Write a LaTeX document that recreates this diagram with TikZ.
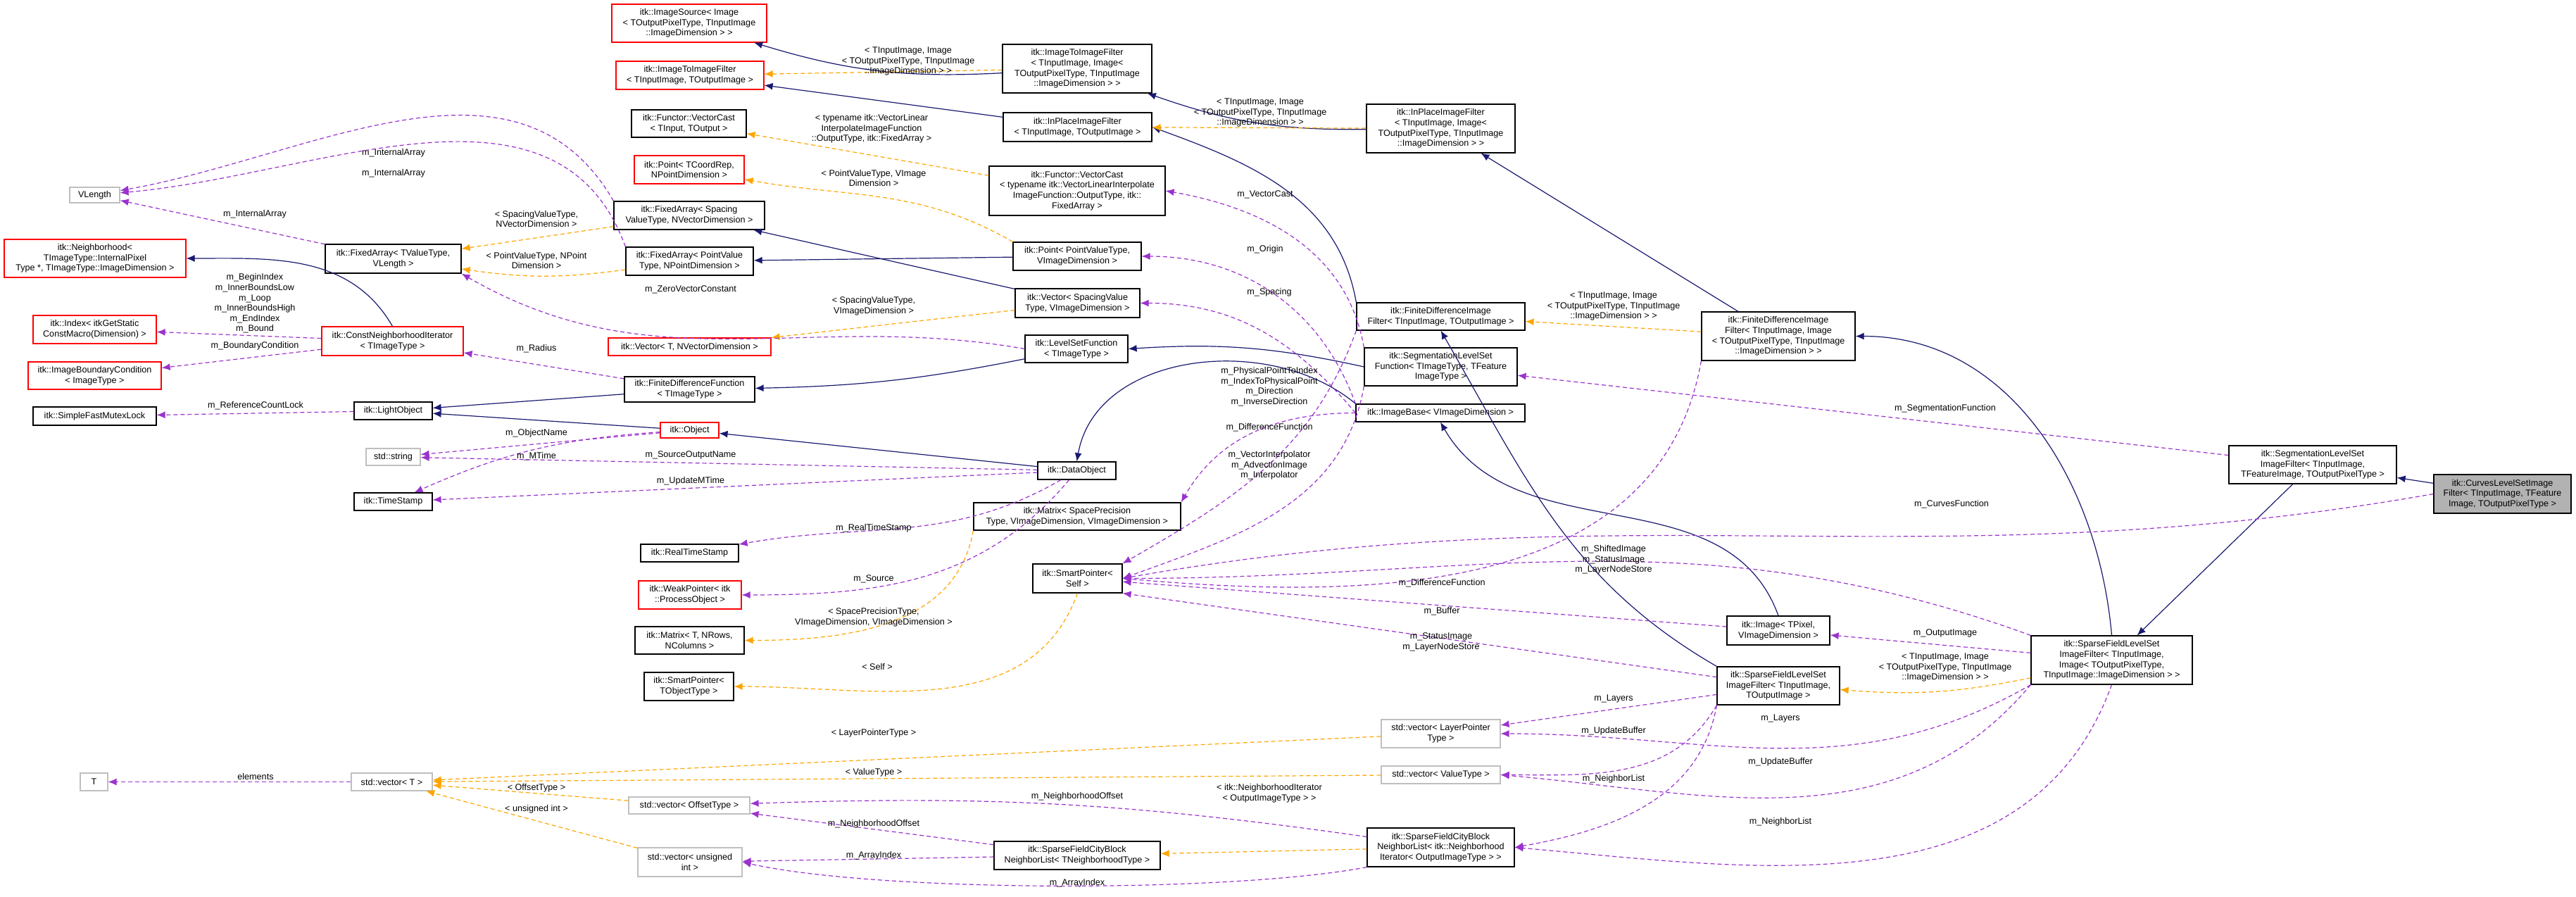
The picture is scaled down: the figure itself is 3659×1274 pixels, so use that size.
\documentclass[tikz,border=0pt]{standalone}
\usepackage{fontspec}
\setmainfont{Liberation Sans}
\usetikzlibrary{arrows.meta}
\tikzset{
  bx/.style={draw, line width=0.6pt, align=center, inner sep=0pt, font=\fontsize{6.3}{7.3}\selectfont, fill=white},
  blk/.style={bx, draw=black},
  rd/.style={bx, draw=red},
  gr/.style={bx, draw=black!25},
  cur/.style={bx, draw=black, fill=black!30},
  lbl/.style={align=center, inner sep=0pt, font=\fontsize{6.3}{7.3}\selectfont},
  inh/.style={draw={rgb,255:red,25;green,25;blue,112}, line width=0.6pt, -{Latex[length=6pt,width=5pt]}},
  tmpl/.style={draw={rgb,255:red,255;green,165;blue,0}, line width=0.6pt, dash pattern=on 3pt off 2pt, -{Latex[length=6pt,width=5pt]}},
  mem/.style={draw={rgb,255:red,155;green,50;blue,205}, line width=0.6pt, dash pattern=on 3pt off 2pt, -{Latex[length=6pt,width=5pt]}},
}
\newcommand{\NB}[7]{\node[#6, minimum width={(#4-#2)*0.5pt}, minimum height={(#5-#3)*0.5pt}] (#1) at ({(#2+#4)/2},{(#3+#5)/2}) {#7};}
\newcommand{\LB}[4]{\node[lbl] (#1) at (#2,#3) {#4};}
\begin{document}
\begin{tikzpicture}[x=0.5pt,y=-0.5pt]
\useasboundingbox (0,0) rectangle (3659,1274);
% nodes
\NB{imgsrc}{869}{6}{1089}{60}{rd}{itk::ImageSource< Image\\< TOutputPixelType, TInputImage\\::ImageDimension > >}
\NB{i2i}{875}{87}{1085}{127}{rd}{itk::ImageToImageFilter\\< TInputImage, TOutputImage >}
\NB{vcastT}{897}{156}{1060}{195}{blk}{itk::Functor::VectorCast\\< TInput, TOutput >}
\NB{pointT}{901}{221}{1057}{261}{rd}{itk::Point< TCoordRep,\\NPointDimension >}
\NB{faSpacing}{872}{286}{1086}{326}{blk}{itk::FixedArray< Spacing\\ValueType, NVectorDimension >}
\NB{faPoint}{889}{351}{1070}{391}{blk}{itk::FixedArray< PointValue\\Type, NPointDimension >}
\NB{faT}{462}{347}{655}{388}{blk}{itk::FixedArray< TValueType,\\VLength >}
\NB{vlength}{99}{266}{170}{288}{gr}{VLength}
\NB{neigh}{6}{340}{264}{394}{rd}{itk::Neighborhood<\\ TImageType::InternalPixel\\Type *, TImageType::ImageDimension >}
\NB{index}{47}{448}{222}{488}{rd}{itk::Index< itkGetStatic\\ConstMacro(Dimension) >}
\NB{cni}{457}{464}{658}{505}{rd}{itk::ConstNeighborhoodIterator\\< TImageType >}
\NB{ibc}{40}{514}{229}{553}{rd}{itk::ImageBoundaryCondition\\< ImageType >}
\NB{mutex}{47}{578}{222}{604}{blk}{itk::SimpleFastMutexLock}
\NB{light}{503}{571}{614}{596}{blk}{itk::LightObject}
\NB{vectorT}{864}{480}{1095}{505}{rd}{itk::Vector< T, NVectorDimension >}
\NB{fdf}{887}{535}{1072}{571}{blk}{itk::FiniteDifferenceFunction\\< TImageType >}
\NB{object}{938}{600}{1021}{622}{rd}{itk::Object}
\NB{string}{520}{637}{597}{661}{gr}{std::string}
\NB{tstamp}{503}{700}{614}{725}{blk}{itk::TimeStamp}
\NB{dataobj}{1474}{656}{1585}{681}{blk}{itk::DataObject}
\NB{realts}{910}{773}{1049}{798}{blk}{itk::RealTimeStamp}
\NB{weak}{907}{825}{1053}{865}{rd}{itk::WeakPointer< itk\\::ProcessObject >}
\NB{matrixT}{902}{890}{1057}{929}{blk}{itk::Matrix< T, NRows,\\NColumns >}
\NB{spTObj}{915}{955}{1042}{995}{blk}{itk::SmartPointer<\\TObjectType >}
\NB{T}{114}{1098}{153}{1123}{gr}{T}
\NB{vecT}{499}{1098}{614}{1123}{gr}{std::vector< T >}
\NB{vecOff}{893}{1132}{1065}{1156}{gr}{std::vector< OffsetType >}
\NB{vecUns}{906}{1204}{1054}{1245}{gr}{std::vector< unsigned\\int >}
\NB{cityT}{1412}{1195}{1648}{1235}{blk}{itk::SparseFieldCityBlock\\NeighborList< TNeighborhoodType >}
\NB{i2iImg}{1424}{63}{1636}{132}{blk}{itk::ImageToImageFilter\\< TInputImage, Image<\\TOutputPixelType, TInputImage\\::ImageDimension > >}
\NB{inplaceT}{1425}{160}{1636}{201}{blk}{itk::InPlaceImageFilter\\< TInputImage, TOutputImage >}
\NB{vcastFull}{1405}{236}{1655}{306}{blk}{itk::Functor::VectorCast\\< typename itk::VectorLinearInterpolate\\ImageFunction::OutputType, itk::\\FixedArray >}
\NB{pointPV}{1439}{344}{1621}{384}{blk}{itk::Point< PointValueType,\\VImageDimension >}
\NB{vecSp}{1442}{410}{1619}{451}{blk}{itk::Vector< SpacingValue\\Type, VImageDimension >}
\NB{lsf}{1456}{476}{1602}{515}{blk}{itk::LevelSetFunction\\< TImageType >}
\NB{matrixSP}{1383}{714}{1677}{753}{blk}{itk::Matrix< SpacePrecision\\Type, VImageDimension, VImageDimension >}
\NB{spSelf}{1467}{801}{1594}{842}{blk}{itk::SmartPointer<\\Self >}
\NB{inplaceImg}{1941}{148}{2152}{217}{blk}{itk::InPlaceImageFilter\\< TInputImage, Image<\\TOutputPixelType, TInputImage\\::ImageDimension > >}
\NB{fdiT}{1927}{430}{2166}{469}{blk}{itk::FiniteDifferenceImage\\Filter< TInputImage, TOutputImage >}
\NB{seglsf}{1938}{494}{2155}{548}{blk}{itk::SegmentationLevelSet\\Function< TImageType, TFeature\\ImageType >}
\NB{imgbase}{1926}{574}{2166}{599}{blk}{itk::ImageBase< VImageDimension >}
\NB{fdiImg}{2417}{443}{2635}{512}{blk}{itk::FiniteDifferenceImage\\Filter< TInputImage, Image\\< TOutputPixelType, TInputImage\\::ImageDimension > >}
\NB{seglsif}{3166}{633}{3404}{687}{blk}{itk::SegmentationLevelSet\\ImageFilter< TInputImage,\\ TFeatureImage, TOutputPixelType >}
\NB{curves}{3457}{674}{3652}{729}{cur}{itk::CurvesLevelSetImage\\Filter< TInputImage, TFeature\\Image, TOutputPixelType >}
\NB{image}{2453}{875}{2599}{916}{blk}{itk::Image< TPixel,\\VImageDimension >}
\NB{sfls}{2885}{903}{3114}{972}{blk}{itk::SparseFieldLevelSet\\ImageFilter< TInputImage,\\Image< TOutputPixelType,\\TInputImage::ImageDimension > >}
\NB{sflsT}{2439}{947}{2613}{1001}{blk}{itk::SparseFieldLevelSet\\ImageFilter< TInputImage,\\TOutputImage >}
\NB{vecLP}{1962}{1022}{2131}{1062}{gr}{std::vector< LayerPointer\\Type >}
\NB{vecVT}{1962}{1088}{2131}{1113}{gr}{std::vector< ValueType >}
\NB{cityN}{1942}{1176}{2151}{1231}{blk}{itk::SparseFieldCityBlock\\NeighborList< itk::Neighborhood\\Iterator< OutputImageType > >}
% inheritance
\draw[inh] (i2iImg) to[bend left=10] (imgsrc);
\draw[inh] (inplaceT) -- (i2i);
\draw[inh] (inplaceImg) to[bend left=10] (i2iImg);
\draw[inh] (fdiT.north west) to[out=100,in=-20] (inplaceT.east);
\draw[inh] (fdiImg) -- (inplaceImg);
\draw[inh] (sfls.north) to[out=95,in=0] (fdiImg.east);
\draw[inh] (seglsif) -- (sfls);
\draw[inh] (curves) -- (seglsif);
\draw[inh] (sflsT.north west) to[out=150,in=-60] (fdiT.south);
\draw[inh] (image.north) to[out=110,in=-60] (imgbase.south);
\draw[inh] (imgbase.north west) to[out=140,in=80] (dataobj.north);
\draw[inh] (seglsf.west) to[bend right=8] (lsf.east);
\draw[inh] (lsf) to[bend left=5] (fdf);
\draw[inh] (fdf) -- (light);
\draw[inh] (object) -- (light);
\draw[inh] (dataobj) -- (object);
\draw[inh] (vecSp) -- (faSpacing);
\draw[inh] (pointPV) -- (faPoint);
\draw[inh] (cni.north) to[out=120,in=0] (neigh.east);
% templates
\draw[tmpl] (i2iImg) -- (i2i);
\LB{l1}{1290}{87}{< TInputImage, Image\\< TOutputPixelType, TInputImage\\::ImageDimension > >}
\draw[tmpl] (inplaceImg) -- (inplaceT);
\LB{l2}{1790}{160}{< TInputImage, Image\\< TOutputPixelType, TInputImage\\::ImageDimension > >}
\draw[tmpl] (fdiImg) -- (fdiT);
\LB{l3}{2292}{435}{< TInputImage, Image\\< TOutputPixelType, TInputImage\\::ImageDimension > >}
\draw[tmpl] (cityN) -- (cityT);
\LB{l4}{1803}{1127}{< itk::NeighborhoodIterator\\< OutputImageType > >}
\draw[tmpl] (sfls) to[bend left=8] (sflsT);
\LB{l5}{2763}{948}{< TInputImage, Image\\< TOutputPixelType, TInputImage\\::ImageDimension > >}
\draw[tmpl] (faSpacing) -- (faT);
\LB{l6}{762}{311}{< SpacingValueType,\\NVectorDimension >}
\draw[tmpl] (faPoint) to[bend left=8] (faT);
\LB{l7}{762}{370}{< PointValueType, NPoint\\Dimension >}
\draw[tmpl] (vcastFull) -- (vcastT);
\LB{l8}{1238}{183}{< typename itk::VectorLinear\\InterpolateImageFunction\\::OutputType, itk::FixedArray >}
\draw[tmpl] (pointPV.north west) to[out=150,in=-10] (pointT);
\LB{l9}{1241}{253}{< PointValueType, VImage\\Dimension >}
\draw[tmpl] (vecSp) -- (vectorT);
\LB{l10}{1241}{435}{< SpacingValueType,\\VImageDimension >}
\draw[tmpl] (matrixSP.south west) to[out=-100,in=0] (matrixT);
\LB{l11}{1241}{877}{< SpacePrecisionType,\\VImageDimension, VImageDimension >}
\draw[tmpl] (spSelf.south) to[out=-110,in=0] (spTObj);
\LB{l12}{1246}{947}{< Self >}
\draw[tmpl] (vecLP) -- (vecT);
\LB{l13}{1241}{1041}{< LayerPointerType >}
\draw[tmpl] (vecVT) -- (vecT);
\LB{l14}{1241}{1097}{< ValueType >}
\draw[tmpl] (vecOff) -- (vecT);
\LB{l15}{762}{1119}{< OffsetType >}
\draw[tmpl] (vecUns) -- (vecT);
\LB{l16}{762}{1149}{< unsigned int >}
% members
\draw[mem] (faSpacing.north west) to[out=120,in=10] (vlength);
\LB{m1}{559}{217}{m\_InternalArray}
\draw[mem] (faPoint.north west) to[out=110,in=5] (vlength);
\LB{m2}{559}{246}{m\_InternalArray}
\draw[mem] (faT) -- (vlength);
\LB{m3}{362}{304}{m\_InternalArray}
\draw[mem] (cni) -- (index);
\LB{m4}{362}{431}{m\_BeginIndex\\m\_InnerBoundsLow\\m\_Loop\\m\_InnerBoundsHigh\\m\_EndIndex\\m\_Bound}
\draw[mem] (cni) -- (ibc);
\LB{m5}{362}{491}{m\_BoundaryCondition}
\draw[mem] (fdf) -- (cni);
\LB{m6}{762}{495}{m\_Radius}
\draw[mem] (light) -- (mutex);
\LB{m7}{363}{576}{m\_ReferenceCountLock}
\draw[mem] (object) -- (string);
\LB{m8}{762}{615}{m\_ObjectName}
\draw[mem] (object) to[bend right=10] (tstamp);
\LB{m9}{762}{648}{m\_MTime}
\draw[mem] (dataobj) -- (string);
\LB{m10}{981}{646}{m\_SourceOutputName}
\draw[mem] (dataobj) -- (tstamp);
\LB{m11}{981}{683}{m\_UpdateMTime}
\draw[mem] (dataobj) to[out=-150,in=10] (realts);
\LB{m12}{1241}{750}{m\_RealTimeStamp}
\draw[mem] (dataobj) to[out=-130,in=0] (weak);
\LB{m13}{1241}{822}{m\_Source}
\draw[mem] (lsf.west) to[out=170,in=-30] (faT.south east);
\LB{m14}{981}{411}{m\_ZeroVectorConstant}
\draw[mem] (seglsf.north west) to[out=100,in=-10] (vcastFull.east);
\LB{m15}{1797}{276}{m\_VectorCast}
\draw[mem] (imgbase.north west) to[out=110,in=0] (pointPV.east);
\LB{m16}{1797}{354}{m\_Origin}
\draw[mem] (imgbase.west) to[out=130,in=0] (vecSp.east);
\LB{m17}{1803}{415}{m\_Spacing}
\draw[mem] (imgbase.west) to[out=180,in=60] (matrixSP.north east);
\LB{m18}{1803}{549}{m\_PhysicalPointToIndex\\m\_IndexToPhysicalPoint\\m\_Direction\\m\_InverseDirection}
\draw[mem] (fdiT.south west) to[out=-110,in=30] (spSelf.north east);
\LB{m19}{1803}{607}{m\_DifferenceFunction}
\draw[mem] (seglsf.south west) to[out=-100,in=20] (spSelf.east);
\LB{m20}{1803}{661}{m\_VectorInterpolator\\m\_AdvectionImage\\m\_Interpolator}
\draw[mem] (curves.west) to[out=190,in=10] (spSelf.east);
\LB{m21}{2772}{716}{m\_CurvesFunction}
\draw[mem] (sfls.north west) to[out=160,in=0] (spSelf.east);
\LB{m22}{2292}{795}{m\_ShiftedImage\\m\_StatusImage\\m\_LayerNodeStore}
\draw[mem] (fdiImg.south west) to[out=-100,in=-5] (spSelf.east);
\LB{m23}{2048}{828}{m\_DifferenceFunction}
\draw[mem] (image) -- (spSelf);
\LB{m24}{2048}{868}{m\_Buffer}
\draw[mem] (sflsT) -- (spSelf.south east);
\LB{m25}{2047}{912}{m\_StatusImage\\m\_LayerNodeStore}
\draw[mem] (seglsif) -- (seglsf);
\LB{m26}{2763}{580}{m\_SegmentationFunction}
\draw[mem] (sfls) -- (image);
\LB{m27}{2763}{899}{m\_OutputImage}
\draw[mem] (sflsT) -- (vecLP);
\LB{m28}{2292}{992}{m\_Layers}
\draw[mem] (sfls.south west) to[out=-150,in=0] (vecLP.east);
\LB{m29}{2529}{1020}{m\_Layers}
\draw[mem] (sflsT.south west) to[out=-120,in=0] (vecVT.east);
\LB{m30}{2292}{1038}{m\_UpdateBuffer}
\draw[mem] (sfls.south west) to[out=-130,in=-5] (vecVT.east);
\LB{m31}{2529}{1082}{m\_UpdateBuffer}
\draw[mem] (sflsT.south west) to[out=-100,in=10] (cityN.east);
\LB{m32}{2292}{1106}{m\_NeighborList}
\draw[mem] (sfls.south) to[out=-110,in=-5] (cityN.east);
\LB{m33}{2529}{1167}{m\_NeighborList}
\draw[mem] (cityN) to[bend right=5] (vecOff);
\LB{m34}{1530}{1131}{m\_NeighborhoodOffset}
\draw[mem] (cityT) -- (vecOff);
\LB{m35}{1241}{1170}{m\_NeighborhoodOffset}
\draw[mem] (cityT) -- (vecUns);
\LB{m36}{1241}{1215}{m\_ArrayIndex}
\draw[mem] (cityN.south west) .. controls (1750,1268) and (1250,1268) .. (vecUns.east);
\LB{m37}{1530}{1254}{m\_ArrayIndex}
\draw[mem] (vecT) -- (T);
\LB{m38}{363}{1103}{elements}
\end{tikzpicture}
\end{document}
